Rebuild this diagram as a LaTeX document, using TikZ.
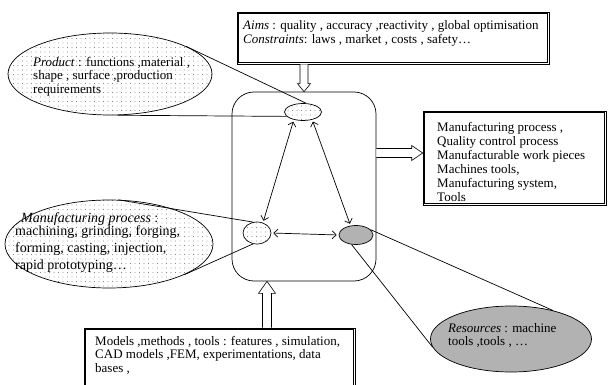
\documentclass[tikz,border=0pt]{standalone}
\usepackage{fontspec}
\setmainfont{Liberation Serif}
\newfontfamily\tnr{Liberation Serif}
\usetikzlibrary{shapes.geometric,arrows.meta,patterns.meta,calc}
\begin{document}
\begin{tikzpicture}[x=1pt,y=-1pt,
  txt/.style={font=\tnr\fontsize{13}{14}\selectfont, align=left, inner sep=0pt, anchor=north west},
  obox/.style={draw, line width=0.6pt, rectangle, inner sep=0pt},
  ibox/.style={line width=0.6pt},
  dotfill/.style={pattern={Dots[distance=4.5pt, radius=0.45pt]}, pattern color=black!75},
  ell/.style={draw, ellipse, inner sep=0pt, line width=0.7pt},
  link/.style={line width=0.7pt},
  bi/.style={line width=0.7pt, shorten <=2pt, shorten >=2pt,
    {Straight Barb[length=4pt,width=8pt]}-{Straight Barb[length=4pt,width=8pt]}},
  hollow/.style={draw, line width=0.6pt, fill=white, line join=miter}
]
\useasboundingbox (0,0) rectangle (608,385);

% main rounded frame
\node[draw, rounded corners=22pt, minimum width=144pt, minimum height=189pt, line width=0.7pt] (rr) at (304,186.5) {};

% boxes (double border)
\node[obox, minimum width=312pt, minimum height=52pt] (aims) at (393,38) {};
\draw[ibox] ($(aims.south west)+(2,-2)$) rectangle ($(aims.north east)+(-2,2)$);
\node[txt] (aimstxt) at (243,20) {\textit{Aims} : quality , accuracy ,reactivity , global optimisation\\
\textit{Constraints}: laws , market , costs , safety…};

\node[obox, minimum width=183pt, minimum height=94pt] (out) at (514.5,158) {};
\draw[ibox] ($(out.south west)+(2,-2)$) rectangle ($(out.north east)+(-2,2)$);
\node[txt] (outtxt) at (437,122) {Manufacturing process ,\\Quality control process\\Manufacturable work pieces\\Machines tools,\\Manufacturing system,\\Tools};

\node[obox, minimum width=271pt, minimum height=80pt] (bot) at (219.5,368) {};
\draw[ibox] ($(bot.south west)+(2,-2)$) rectangle ($(bot.north east)+(-2,2)$);
\node[txt, font=\tnr\fontsize{13}{13.5}\selectfont] (bottxt) at (95,336) {Models ,methods , tools : features , simulation,\\CAD models ,FEM, experimentations, data\\bases ,};

% big ellipses
\node[ell, dotfill, minimum width=204pt, minimum height=82pt] (pb) at (110,74) {};
\node[ell, dotfill, minimum width=208pt, minimum height=88pt] (mb) at (109,244) {};
\node[ell, fill=black!30, minimum width=161pt, minimum height=66pt] (rb) at (511,339) {};

\node[txt, font=\tnr\fontsize{13}{13.5}\selectfont] (pbtxt) at (33,57) {\textit{Product} : functions ,material ,\\shape , surface ,production\\requirements};
\node[txt, font=\tnr\fontsize{14}{17}\selectfont] (mbtxt) at (15,212) {\hspace{6pt}\textit{Manufacturing process} :\\[-3.5pt]machining, grinding, forging,\\forming, casting, injection,\\rapid prototyping…};
\node[txt, font=\tnr\fontsize{13}{13.5}\selectfont] (rbtxt) at (448,323) {\textit{Resources} : machine\\tools ,tools , …};

% small ellipses
\node[ell, dotfill, minimum width=37pt, minimum height=17pt] (ps) at (303,112) {};
\node[ell, dotfill, minimum width=28pt, minimum height=22pt] (ms) at (257,233) {};
\node[ell, fill=black!30, minimum width=34pt, minimum height=19pt] (rs) at (356,235) {};

% callout lines
\draw[link] (pb.20) -- (ps.70);
\draw[link] (pb.-80) -- (ps.195);
\draw[link] (mb.78) -- (ms.110);
\draw[link] (mb.-22) -- (ms.250);
\draw[link] (rs.20) -- (rb.34);
\draw[link] (rs.245) -- (rb.186);

% double-headed arrows
\draw[bi] (ps.-140) -- (ms.60);
\draw[bi] (ps.-40) -- (rs.120);
\draw[bi] (ms.east) -- (rs.west);

% hollow block arrows
\coordinate (ra0) at (rr.east |- 0,153);
\coordinate (ra1) at (out.west |- 0,153);
\draw[hollow] ($(ra0)+(0,-4.5)$) -- ($(ra1)+(-11,-4.5)$) -- ($(ra1)+(-11,-7.5)$) -- (ra1)
  -- ($(ra1)+(-11,7.5)$) -- ($(ra1)+(-11,4.5)$) -- ($(ra0)+(0,4.5)$);

\coordinate (da0) at (rr.north |- aims.south);
\coordinate (da1) at (rr.north);
\draw[hollow] ($(da0)+(-4,0)$) -- ($(da1)+(-4,-8)$) -- ($(da1)+(-6.5,-8)$) -- (da1)
  -- ($(da1)+(6.5,-8)$) -- ($(da1)+(4,-8)$) -- ($(da0)+(4,0)$);

\coordinate (ua0) at (bot.north -| 267,0);
\coordinate (ua1) at (rr.south -| 267,0);
\draw[hollow] ($(ua0)+(-4.5,0)$) -- ($(ua1)+(-4.5,12)$) -- ($(ua1)+(-8.5,12)$) -- (ua1)
  -- ($(ua1)+(8.5,12)$) -- ($(ua1)+(4.5,12)$) -- ($(ua0)+(4.5,0)$);
\end{tikzpicture}
\end{document}
